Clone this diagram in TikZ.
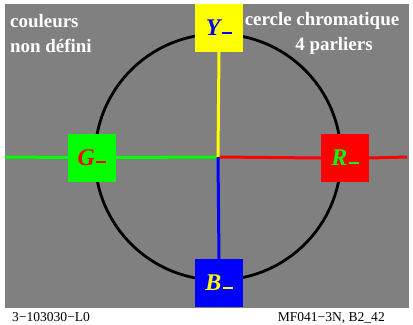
\documentclass[tikz,border=0pt]{standalone}
\usepackage{fontspec}
\setmainfont{Liberation Serif}
\definecolor{bggray}{RGB}{128,128,128}
\definecolor{pgreen}{RGB}{0,255,0}
\definecolor{pred}{RGB}{255,0,0}
\definecolor{pblue}{RGB}{0,0,255}
\definecolor{pyellow}{RGB}{255,255,0}
\tikzset{
  colbox/.style={rectangle, minimum width=48bp, minimum height=48bp, inner sep=0pt},
  boxlabel/.style={font=\fontsize{24}{24}\selectfont\bfseries\itshape},
  toptext/.style={text=white, font=\fontsize{19}{19}\selectfont\bfseries, inner sep=0pt},
  foottext/.style={font=\fontsize{13.6}{13.6}\selectfont, inner sep=0pt},
  axisline/.style={line width=3bp}
}
\newcommand{\mysub}{\hspace{1.5bp}\raisebox{2bp}{\rule{10bp}{2bp}}}
\begin{document}
\begin{tikzpicture}[x=1bp,y=-1bp]
\useasboundingbox (0,0) rectangle (413,325);
\fill[white] (0,0) rectangle (413,325);
\fill[bggray] (5,4) rectangle (409,308);
\coordinate (c) at (218,157);
\coordinate (lend) at (5,157);
\coordinate (rend) at (407,157);
\draw[line width=2.8bp] (c) circle[radius=123];
\node[colbox, fill=pyellow] (Y) at (219,28) {};
\node[colbox, fill=pgreen] (G) at (92,157.5) {};
\node[colbox, fill=pred] (R) at (345,158) {};
\node[colbox, fill=pblue] (B) at (219,283) {};
\draw[axisline, pgreen] (lend) -- (G.west);
\draw[axisline, pgreen] (G.east) -- (c);
\draw[axisline, pred] (c) -- (R.west);
\draw[axisline, pred] (R.east) -- (rend);
\draw[axisline, pyellow] (Y.south) -- (c);
\draw[axisline, pblue] (c) -- (B.north);
\node[boxlabel, text=pblue] (Yl) at (Y) {Y\mysub};
\node[boxlabel, text=pred] (Gl) at (G) {G\mysub};
\node[boxlabel, text=pgreen] (Rl) at (R) {R\mysub};
\node[boxlabel, text=pyellow] (Bl) at (B) {B\mysub};
\node[toptext, anchor=base west] (t1) at (10,27) {couleurs};
\node[toptext, anchor=base west] (t2) at (10,52) {non défini};
\node[toptext, anchor=base] (t3) at (322,25) {cercle chromatique};
\node[toptext, anchor=base] (t4) at (334,50) {4 parliers};
\node[foottext, anchor=base west] (f1) at (12,321.5) {3−103030−L0};
\node[foottext, anchor=base east] (f2) at (385,321.5) {MF041−3N, B2\_42};
\end{tikzpicture}
\end{document}
